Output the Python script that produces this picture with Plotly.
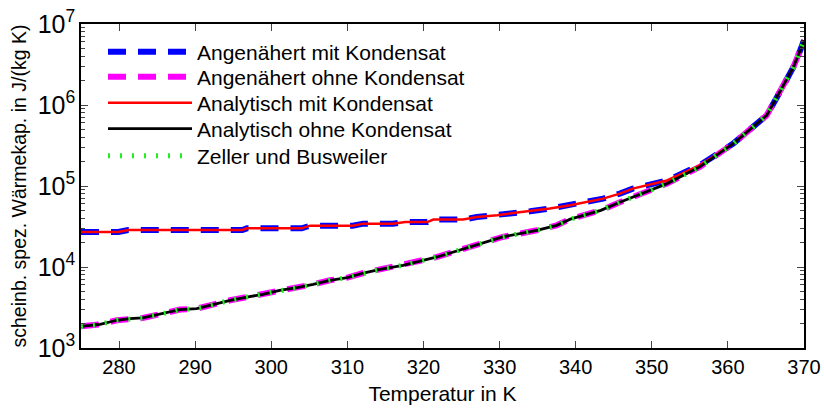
import plotly.graph_objects as go

# Temperatures (K) and values J/(kg K)
T_mit = [275.0, 279.9, 281.2, 296.2, 296.8, 304.0, 305.1, 310.7, 312.1, 316.0, 317.6,
         320.5, 321.3, 325.2, 327.0, 329.7, 331.8, 334.0, 336.6, 339.3, 341.5, 343.6,
         345.8, 347.5, 352.0, 356.3, 360.7, 365.1, 367.2, 368.6, 369.5, 370.0]
c_mit = [27.0e3, 27.0e3, 28.6e3, 28.6e3, 30.0e3, 30.0e3, 32.4e3, 32.4e3, 34.3e3, 34.3e3, 35.9e3,
         35.9e3, 38.5e3, 38.5e3, 41.4e3, 43.5e3, 46.4e3, 48.7e3, 52.6e3, 57.8e3, 63.5e3, 69.9e3,
         80.5e3, 92.9e3, 117e3, 180e3, 334e3, 746e3, 1.67e6, 2.94e6, 4.73e6, 6.29e6]

T_ohne = [275.0, 277.5, 279.7, 281.4, 283.1, 285.8, 288.0, 290.2, 292.3, 294.6, 296.8,
          298.9, 301.1, 303.4, 305.5, 307.7, 310.0, 312.1, 314.3, 317.3, 321.8, 326.1,
          330.4, 334.9, 337.5, 339.3, 343.3, 345.8, 347.5, 352.0, 356.3, 360.7, 365.1,
          367.2, 368.6, 369.5, 370.0]
c_ohne = [1.85e3, 1.96e3, 2.20e3, 2.31e3, 2.35e3, 2.66e3, 2.98e3, 3.06e3, 3.46e3, 3.88e3, 4.26e3,
          4.60e3, 5.16e3, 5.57e3, 6.11e3, 6.85e3, 7.40e3, 8.43e3, 9.37e3, 10.5e3, 13.3e3, 17.7e3,
          23.5e3, 28.4e3, 32.7e3, 39.0e3, 50.1e3, 63.0e3, 73.1e3, 107e3, 172e3, 334e3, 746e3,
          1.67e6, 2.94e6, 4.73e6, 6.29e6]

# Approximations (coincide with the analytic curves)
c_approx_mit = list(c_mit)
c_approx_ohne = list(c_ohne)
c_zeller = list(c_ohne)

names = ["Angenähert mit Kondensat", "Angenähert ohne Kondensat",
         "Analytisch mit Kondensat", "Analytisch ohne Kondensat",
         "Zeller und Busweiler"]

FONT = "Liberation Sans, Arial, sans-serif"

# plot area in pixels
L, R, TOP, BOT = 81, 804, 24, 348
W, H = 824, 408

fig = go.Figure()
styles = [
    (T_mit, c_approx_mit, dict(color="#0000ff", width=6, dash="18px,12px")),
    (T_ohne, c_approx_ohne, dict(color="#ff00ff", width=6, dash="18px,12px")),
    (T_mit, c_mit, dict(color="#ff0000", width=2.5)),
    (T_ohne, c_ohne, dict(color="#000000", width=2.8)),
    (T_ohne, c_zeller, dict(color="#22ee22", width=5, dash="2px,10px")),
]
legend_centers = [52, 77, 103, 129, 156]  # pixel rows of the legend entries

layout_legends = {}
for i, ((tx, cy, ln), nm) in enumerate(zip(styles, names)):
    key = "legend" if i == 0 else f"legend{i+1}"
    fig.add_trace(go.Scatter(x=tx, y=cy, mode="lines", name=nm, line=ln,
                             legend=key))
    layout_legends[key] = dict(
        x=(103 - L) / (R - L), y=(BOT - legend_centers[i]) / (BOT - TOP),
        xanchor="left", yanchor="middle", bgcolor="rgba(0,0,0,0)",
        font=dict(size=21, family=FONT, color="black"), itemwidth=84,
        borderwidth=0)

fig.update_layout(
    width=W, height=H,
    margin=dict(l=L, r=W - R, t=TOP, b=H - BOT, autoexpand=False),
    paper_bgcolor="white", plot_bgcolor="white",
    font=dict(family=FONT, size=20, color="black"),
    showlegend=True,
    xaxis=dict(range=[275, 370], tick0=280, dtick=10, ticks="inside", ticklen=7,
               showline=True, linecolor="black", linewidth=1.5, mirror="allticks",
               showgrid=False, zeroline=False, tickfont=dict(size=20), automargin=False,
               title=dict(text="Temperatur in K", font=dict(size=21), standoff=10)),
    yaxis=dict(type="log", range=[3, 7], dtick=1, exponentformat="power",
               ticks="inside", ticklen=7,
               minor=dict(ticks="inside", ticklen=4, showgrid=False),
               showline=True, linecolor="black", linewidth=1.5, mirror="allticks",
               showgrid=False, zeroline=False, tickfont=dict(size=20), automargin=False,
               title=dict(text="scheinb. spez. Wärmekap. in J/(kg K)", font=dict(size=19.5),
                          standoff=6)),
    **layout_legends,
)

fig.write_html("out.html")
